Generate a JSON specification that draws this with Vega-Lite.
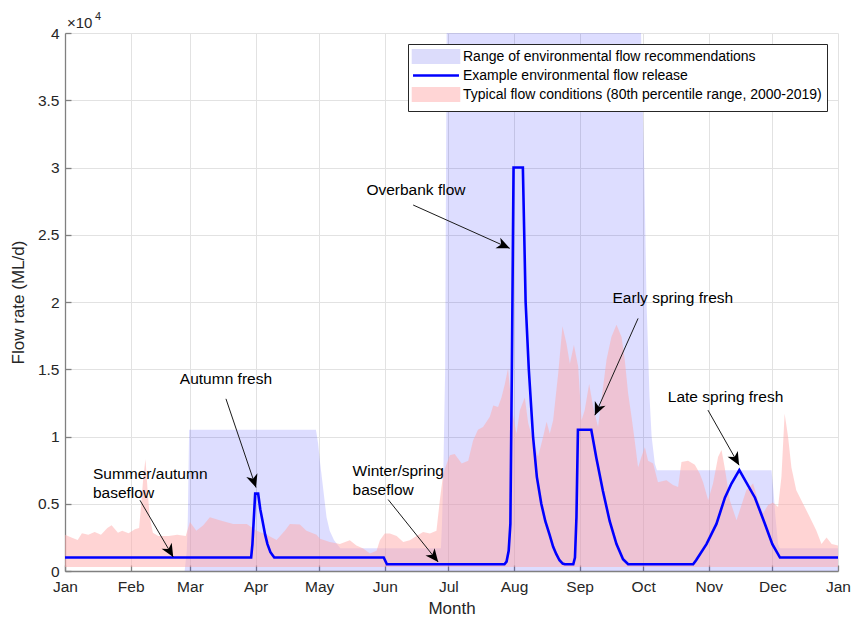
{
  "$schema": "https://vega.github.io/schema/vega-lite/v6.json",
  "width": 773,
  "height": 538,
  "autosize": "none",
  "padding": {"left": 65, "top": 33, "right": 14, "bottom": 48},
  "background": "white",
  "config": {
    "font": "Liberation Sans",
    "view": {"stroke": null},
    "axis": {
      "labelFont": "Liberation Sans",
      "labelFontSize": 15.5,
      "labelColor": "#262626",
      "titleFont": "Liberation Sans",
      "titleFontSize": 17,
      "titleFontWeight": "normal",
      "titleColor": "#262626",
      "gridColor": "#e2e2e2",
      "gridWidth": 1,
      "domainColor": "#808080",
      "domainWidth": 1.3,
      "tickColor": "#808080",
      "tickWidth": 1.3,
      "tickSize": -6
    }
  },
  "datasets": {
    "lav": [
      {"day": 0, "flow": 0}, {"day": 56.5, "flow": 0}, {"day": 57.5, "flow": 1500}, {"day": 58, "flow": 4000},
      {"day": 58.6, "flow": 10500}, {"day": 118.5, "flow": 10500}, {"day": 119.5, "flow": 9500}, {"day": 120.5, "flow": 8000},
      {"day": 122, "flow": 6000}, {"day": 123.5, "flow": 4000}, {"day": 125, "flow": 3000}, {"day": 127, "flow": 2300},
      {"day": 130, "flow": 1700}, {"day": 177.5, "flow": 1700}, {"day": 178, "flow": 3500}, {"day": 178.6, "flow": 7000},
      {"day": 179.5, "flow": 15000}, {"day": 180.2, "flow": 40000}, {"day": 272, "flow": 40000}, {"day": 273.5, "flow": 30000},
      {"day": 274.6, "flow": 20000}, {"day": 276, "flow": 13000}, {"day": 277, "flow": 10000}, {"day": 278.5, "flow": 8000},
      {"day": 279.5, "flow": 7500}, {"day": 333.6, "flow": 7500}, {"day": 334.5, "flow": 6000}, {"day": 335.5, "flow": 4000},
      {"day": 336.7, "flow": 2000}, {"day": 337.5, "flow": 1700}, {"day": 365, "flow": 1700}
    ],
    "pink": [
      {"day": 0, "flow": 2700, "lo": 300}, {"day": 3, "flow": 2500, "lo": 300}, {"day": 6, "flow": 2300, "lo": 300},
      {"day": 8, "flow": 2800, "lo": 300}, {"day": 11, "flow": 2700, "lo": 300}, {"day": 14, "flow": 2900, "lo": 300},
      {"day": 17, "flow": 2700, "lo": 300}, {"day": 20, "flow": 3200, "lo": 300}, {"day": 22, "flow": 3400, "lo": 300},
      {"day": 25, "flow": 2850, "lo": 300}, {"day": 27, "flow": 3000, "lo": 300}, {"day": 30, "flow": 2800, "lo": 300},
      {"day": 33, "flow": 3100, "lo": 300}, {"day": 35, "flow": 3200, "lo": 300}, {"day": 36, "flow": 5000, "lo": 300},
      {"day": 37, "flow": 7000, "lo": 300}, {"day": 38, "flow": 8300, "lo": 300}, {"day": 39, "flow": 6000, "lo": 300},
      {"day": 40, "flow": 4000, "lo": 300}, {"day": 41.5, "flow": 2850, "lo": 300}, {"day": 44, "flow": 2600, "lo": 300},
      {"day": 49, "flow": 2600, "lo": 300}, {"day": 53, "flow": 2700, "lo": 300}, {"day": 57, "flow": 2600, "lo": 300},
      {"day": 59, "flow": 3650, "lo": 300}, {"day": 62, "flow": 3000, "lo": 300}, {"day": 65.3, "flow": 3400, "lo": 300},
      {"day": 68.4, "flow": 4000, "lo": 300}, {"day": 73, "flow": 3770, "lo": 300}, {"day": 79.4, "flow": 3500, "lo": 300},
      {"day": 85.8, "flow": 3500, "lo": 300}, {"day": 90.5, "flow": 3000, "lo": 300}, {"day": 95.2, "flow": 2700, "lo": 300},
      {"day": 99.9, "flow": 2300, "lo": 300}, {"day": 103.8, "flow": 3000, "lo": 300}, {"day": 106.2, "flow": 3500, "lo": 300},
      {"day": 110.9, "flow": 3450, "lo": 300}, {"day": 114, "flow": 3000, "lo": 300}, {"day": 118.8, "flow": 2700, "lo": 300},
      {"day": 120.4, "flow": 2400, "lo": 300}, {"day": 125, "flow": 2160, "lo": 300}, {"day": 129.8, "flow": 2000, "lo": 300},
      {"day": 134.5, "flow": 2280, "lo": 300}, {"day": 137.6, "flow": 1900, "lo": 300}, {"day": 140.8, "flow": 1670, "lo": 300},
      {"day": 144, "flow": 1300, "lo": 300}, {"day": 147.1, "flow": 1500, "lo": 300}, {"day": 148.7, "flow": 2280, "lo": 300},
      {"day": 151, "flow": 2780, "lo": 300}, {"day": 153.4, "flow": 2780, "lo": 300}, {"day": 156.6, "flow": 2600, "lo": 300},
      {"day": 159.7, "flow": 2160, "lo": 300}, {"day": 162.8, "flow": 2280, "lo": 300}, {"day": 166, "flow": 2600, "lo": 300},
      {"day": 169.1, "flow": 2900, "lo": 300}, {"day": 172.3, "flow": 2780, "lo": 300}, {"day": 175.4, "flow": 3000, "lo": 300},
      {"day": 177, "flow": 5260, "lo": 300}, {"day": 178.6, "flow": 7250, "lo": 300}, {"day": 181.7, "flow": 8600, "lo": 300},
      {"day": 184, "flow": 8700, "lo": 300}, {"day": 187.3, "flow": 8000, "lo": 300}, {"day": 190.4, "flow": 8200, "lo": 300},
      {"day": 192.7, "flow": 9700, "lo": 300}, {"day": 195, "flow": 10500, "lo": 300}, {"day": 197.4, "flow": 10700, "lo": 300},
      {"day": 200.6, "flow": 11460, "lo": 300}, {"day": 202.2, "flow": 12300, "lo": 300}, {"day": 204.5, "flow": 12200, "lo": 300},
      {"day": 206.1, "flow": 12900, "lo": 300}, {"day": 207.7, "flow": 13900, "lo": 300}, {"day": 209.2, "flow": 15060, "lo": 300},
      {"day": 211, "flow": 12000, "lo": 300}, {"day": 213.2, "flow": 10200, "lo": 300}, {"day": 214.8, "flow": 11960, "lo": 300},
      {"day": 217.1, "flow": 12900, "lo": 300}, {"day": 218.7, "flow": 11000, "lo": 300}, {"day": 221, "flow": 9700, "lo": 300},
      {"day": 223.4, "flow": 8500, "lo": 300}, {"day": 225.8, "flow": 10000, "lo": 300}, {"day": 227.4, "flow": 11100, "lo": 300},
      {"day": 228.9, "flow": 10200, "lo": 300}, {"day": 230.5, "flow": 11200, "lo": 300}, {"day": 232.9, "flow": 14700, "lo": 300},
      {"day": 234.9, "flow": 18200, "lo": 300}, {"day": 236.8, "flow": 16900, "lo": 300}, {"day": 238.4, "flow": 15400, "lo": 300},
      {"day": 240.3, "flow": 16800, "lo": 300}, {"day": 242.3, "flow": 15200, "lo": 300}, {"day": 243.9, "flow": 11200, "lo": 300},
      {"day": 245.4, "flow": 11960, "lo": 300}, {"day": 247.5, "flow": 13900, "lo": 300}, {"day": 249.4, "flow": 12200, "lo": 300},
      {"day": 251.7, "flow": 10700, "lo": 300}, {"day": 254.1, "flow": 13700, "lo": 300}, {"day": 255.7, "flow": 15700, "lo": 300},
      {"day": 258, "flow": 17400, "lo": 300}, {"day": 260.4, "flow": 18300, "lo": 300}, {"day": 262.8, "flow": 17400, "lo": 300},
      {"day": 264.3, "flow": 15700, "lo": 300}, {"day": 265.9, "flow": 13200, "lo": 300}, {"day": 267.5, "flow": 11460, "lo": 300},
      {"day": 269, "flow": 9700, "lo": 300}, {"day": 270.6, "flow": 7700, "lo": 300}, {"day": 272.2, "flow": 8500, "lo": 300},
      {"day": 273.8, "flow": 9200, "lo": 300}, {"day": 275.3, "flow": 8200, "lo": 300}, {"day": 277.7, "flow": 8000, "lo": 300},
      {"day": 280, "flow": 6600, "lo": 300}, {"day": 282.4, "flow": 6700, "lo": 300}, {"day": 284, "flow": 6750, "lo": 300},
      {"day": 287.1, "flow": 6400, "lo": 300}, {"day": 289.5, "flow": 6250, "lo": 300}, {"day": 291.1, "flow": 8100, "lo": 300},
      {"day": 294.2, "flow": 8200, "lo": 300}, {"day": 297.4, "flow": 7900, "lo": 300}, {"day": 299.7, "flow": 7250, "lo": 300},
      {"day": 301.3, "flow": 6600, "lo": 300}, {"day": 303.7, "flow": 5260, "lo": 300}, {"day": 306, "flow": 6500, "lo": 300},
      {"day": 308.4, "flow": 8500, "lo": 300}, {"day": 310, "flow": 9000, "lo": 300}, {"day": 311.5, "flow": 7700, "lo": 300},
      {"day": 313.9, "flow": 5260, "lo": 300}, {"day": 317.1, "flow": 3770, "lo": 300}, {"day": 318.6, "flow": 4500, "lo": 300},
      {"day": 321.7, "flow": 6000, "lo": 300}, {"day": 324.9, "flow": 6500, "lo": 300}, {"day": 327.2, "flow": 5260, "lo": 300},
      {"day": 329.6, "flow": 4300, "lo": 300}, {"day": 332, "flow": 4900, "lo": 300}, {"day": 334.3, "flow": 5100, "lo": 300},
      {"day": 336.7, "flow": 4760, "lo": 300}, {"day": 338.3, "flow": 7000, "lo": 300}, {"day": 339.8, "flow": 11700, "lo": 300},
      {"day": 341.4, "flow": 10000, "lo": 300}, {"day": 343, "flow": 7700, "lo": 300}, {"day": 345.3, "flow": 6000, "lo": 300},
      {"day": 348.5, "flow": 5000, "lo": 300}, {"day": 351.7, "flow": 4000, "lo": 300}, {"day": 354.8, "flow": 3000, "lo": 300},
      {"day": 357.2, "flow": 2000, "lo": 300}, {"day": 359.6, "flow": 2500, "lo": 300}, {"day": 362, "flow": 2000, "lo": 300},
      {"day": 365, "flow": 1900, "lo": 300}
    ],
    "release": [
      {"day": 0, "flow": 1000}, {"day": 87.9, "flow": 1000}, {"day": 88.5, "flow": 2000}, {"day": 89.8, "flow": 5750},
      {"day": 91.2, "flow": 5750}, {"day": 92.2, "flow": 4600}, {"day": 93.3, "flow": 3700}, {"day": 94.5, "flow": 2700},
      {"day": 95.6, "flow": 2000}, {"day": 97, "flow": 1400}, {"day": 98.8, "flow": 1000}, {"day": 150.5, "flow": 1000},
      {"day": 152, "flow": 500}, {"day": 207.5, "flow": 500}, {"day": 208.5, "flow": 700}, {"day": 209.5, "flow": 1500},
      {"day": 210.3, "flow": 3500}, {"day": 211, "flow": 15000}, {"day": 211.8, "flow": 30000}, {"day": 216.2, "flow": 30000},
      {"day": 217.5, "flow": 20000}, {"day": 219, "flow": 15000}, {"day": 221, "flow": 10000}, {"day": 222.8, "flow": 7000},
      {"day": 224.9, "flow": 5000}, {"day": 226.8, "flow": 3700}, {"day": 228.8, "flow": 2700}, {"day": 230.5, "flow": 1800},
      {"day": 232, "flow": 1250}, {"day": 233.5, "flow": 800}, {"day": 235, "flow": 550}, {"day": 236, "flow": 500},
      {"day": 240, "flow": 500}, {"day": 240.8, "flow": 1000}, {"day": 241.5, "flow": 4000}, {"day": 242.2, "flow": 10500},
      {"day": 248.5, "flow": 10500}, {"day": 250.9, "flow": 8400}, {"day": 254, "flow": 5950}, {"day": 257.2, "flow": 3700},
      {"day": 260.4, "flow": 2000}, {"day": 263.5, "flow": 870}, {"day": 265.9, "flow": 500}, {"day": 296.6, "flow": 500},
      {"day": 298, "flow": 800}, {"day": 302.9, "flow": 2000}, {"day": 307.6, "flow": 3500}, {"day": 311.6, "flow": 5450},
      {"day": 314.7, "flow": 6500}, {"day": 318.4, "flow": 7500}, {"day": 325.8, "flow": 5450}, {"day": 330.5, "flow": 3500},
      {"day": 334, "flow": 2000}, {"day": 337.6, "flow": 1000}, {"day": 365, "flow": 1000}
    ],
    "arrows": [
      {"day": 35.4, "flow": 5260, "day2": 51.1, "flow2": 1040},
      {"day": 76, "flow": 12800, "day2": 90.2, "flow2": 6205},
      {"day": 152.6, "flow": 5310, "day2": 176.2, "flow2": 670},
      {"day": 164.4, "flow": 27210, "day2": 210, "flow2": 23990},
      {"day": 270.6, "flow": 18780, "day2": 250.2, "flow2": 11585},
      {"day": 303.6, "flow": 11960, "day2": 318.3, "flow2": 7865}
    ],
    "notesLeft": [
      {"day": 13.2, "flow": 7200, "text": "Summer/autumn\nbaseflow"},
      {"day": 135.8, "flow": 7400, "text": "Winter/spring\nbaseflow"}
    ],
    "notesCenter": [
      {"day": 76, "flow": 14240, "text": "Autumn fresh"},
      {"day": 165.7, "flow": 28350, "text": "Overbank flow"},
      {"day": 287, "flow": 20310, "text": "Early spring fresh"},
      {"day": 311.9, "flow": 12950, "text": "Late spring fresh"}
    ],
    "corner": [{"day": 0, "flow": 40000}]
  },
  "encoding": {
    "x": {
      "field": "day",
      "type": "quantitative",
      "scale": {"domain": [0, 365], "nice": false, "zero": false},
      "axis": {
        "title": "Month",
        "titlePadding": 6,
        "values": [0, 31, 59, 90, 120, 151, 181, 212, 243, 273, 304, 334, 365],
        "labelExpr": "['Jan','Feb','Mar','Apr','May','Jun','Jul','Aug','Sep','Oct','Nov','Dec','Jan'][indexof([0,31,59,90,120,151,181,212,243,273,304,334,365], datum.value)]",
        "labelPadding": 14,
        "labelFlush": false,
        "labelOverlap": false
      }
    },
    "y": {
      "field": "flow",
      "type": "quantitative",
      "scale": {"domain": [0, 40000], "nice": false},
      "axis": {
        "title": "Flow rate (ML/d)",
        "titlePadding": 10,
        "values": [0, 5000, 10000, 15000, 20000, 25000, 30000, 35000, 40000],
        "labelExpr": "datum.value / 10000",
        "labelPadding": 12,
        "labelFlush": false,
        "labelOverlap": false
      }
    }
  },
  "layer": [
    {
      "data": {"name": "lav"},
      "mark": {"type": "area", "fill": "#0000ff", "fillOpacity": 0.135}
    },
    {
      "data": {"name": "pink"},
      "mark": {"type": "area", "fill": "#ffaaaa", "fillOpacity": 0.5},
      "encoding": {"y2": {"field": "lo"}}
    },
    {
      "data": {"name": "release"},
      "mark": {"type": "line", "strokeWidth": 2.6},
      "encoding": {
        "color": {
          "datum": "Example environmental flow release",
          "type": "nominal",
          "scale": {
            "domain": ["Range of environmental flow recommendations", "Example environmental flow release", "Typical flow conditions (80th percentile range, 2000-2019)"],
            "range": ["#dcdcfb", "#0000ff", "#ffd5d5"]
          },
          "legend": {
            "title": null,
            "orient": "top-right",
            "offset": 11,
            "padding": 5,
            "strokeColor": "#262626",
            "fillColor": "#ffffff",
            "labelFont": "Liberation Sans",
            "labelFontSize": 14,
            "labelColor": "#000000",
            "labelLimit": 600,
            "labelOffset": 35,
            "rowPadding": 0,
            "symbolSize": 144,
            "symbolType": "square",
            "encode": {
              "symbols": {
                "update": {
                  "x": {"value": 23},
                  "shape": {"signal": "datum.value === 'Example environmental flow release' ? 'M-3.83,0H3.83' : 'M-3.83,-1.05H3.83V1.05H-3.83Z'"},
                  "fill": {"signal": "datum.value === 'Example environmental flow release' ? 'transparent' : (datum.value === 'Range of environmental flow recommendations' ? '#dcdcfb' : '#ffd5d5')"},
                  "stroke": {"signal": "datum.value === 'Example environmental flow release' ? '#0000ff' : 'transparent'"},
                  "strokeWidth": {"value": 2.6},
                  "opacity": {"value": 1},
                  "fillOpacity": {"value": 1}
                }
              }
            }
          }
        }
      }
    },
    {
      "data": {"name": "arrows"},
      "mark": {"type": "rule", "color": "#1a1a1a", "strokeWidth": 1},
      "encoding": {"x2": {"field": "day2"}, "y2": {"field": "flow2"}}
    },
    {
      "data": {"name": "arrows"},
      "transform": [
        {"calculate": "atan2((datum.day2 - datum.day) * 773 / 365, (datum.flow2 - datum.flow) * 538 / 40000) * 180 / PI", "as": "ang"}
      ],
      "mark": {"type": "point", "shape": "M0,0L0.45,1L0,0.72L-0.45,1Z", "filled": true, "fill": "#000000", "opacity": 1, "size": 676, "strokeWidth": 0},
      "encoding": {
        "x": {"field": "day2", "type": "quantitative"},
        "y": {"field": "flow2", "type": "quantitative"},
        "angle": {"field": "ang", "type": "quantitative", "scale": null}
      }
    },
    {
      "data": {"name": "notesLeft"},
      "mark": {"type": "text", "align": "left", "baseline": "middle", "fontSize": 15.5, "lineHeight": 19, "lineBreak": "\n", "color": "#000000", "font": "Liberation Sans"},
      "encoding": {"text": {"field": "text"}}
    },
    {
      "data": {"name": "notesCenter"},
      "mark": {"type": "text", "align": "center", "baseline": "middle", "fontSize": 15.5, "color": "#000000", "font": "Liberation Sans"},
      "encoding": {"text": {"field": "text"}}
    },
    {
      "data": {"name": "corner"},
      "mark": {"type": "text", "align": "left", "baseline": "alphabetic", "dx": 2, "dy": -5, "fontSize": 15, "color": "#262626", "font": "Liberation Sans", "text": "×10"},
      "encoding": {}
    },
    {
      "data": {"name": "corner"},
      "mark": {"type": "text", "align": "left", "baseline": "alphabetic", "dx": 30, "dy": -13, "fontSize": 11, "color": "#262626", "font": "Liberation Sans", "text": "4"},
      "encoding": {}
    }
  ]
}
